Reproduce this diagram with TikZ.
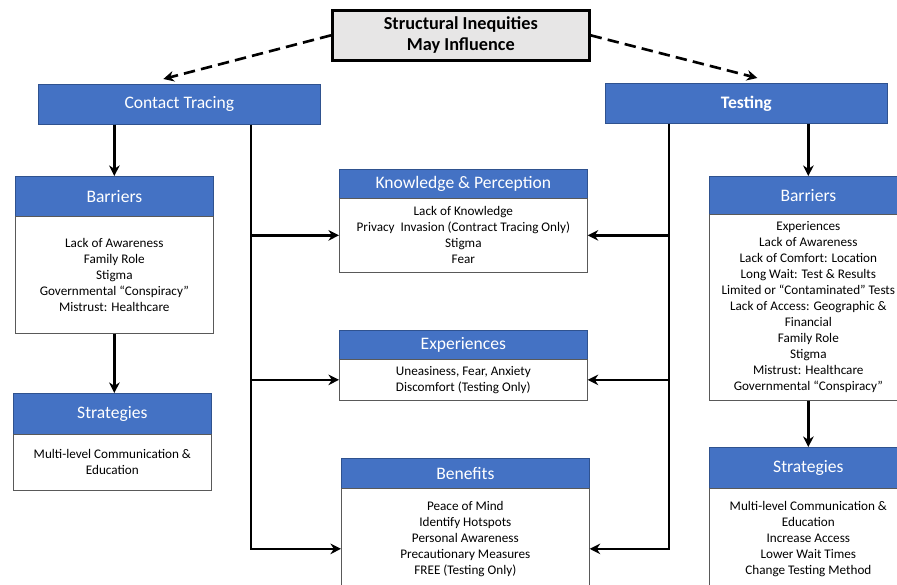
\documentclass[tikz,border=0pt]{standalone}
\usepackage{fontspec}
\setmainfont{Carlito}
\usetikzlibrary{arrows.meta}

\definecolor{hdrblue}{HTML}{4472C4}
\definecolor{hdrline}{HTML}{2F528F}
\definecolor{titlegray}{HTML}{E7E6E6}
\newcommand\hdfont{\fontsize{10}{11.5}\selectfont}
\newcommand\bdfont{\fontsize{7.5}{9.1}\selectfont}

\tikzset{
  hdr/.style={draw=hdrline, fill=hdrblue, text=white, font=\hdfont, inner sep=0pt, anchor=north west},
  bodybox/.style={draw=black!65, fill=white, font=\bdfont, align=center, inner sep=0pt, anchor=north west},
  wh/.style 2 args={minimum width=#1*0.02cm, minimum height=#2*0.02cm},
  link/.style={line width=1.5pt, -{Stealth[length=6pt,width=6pt]}},
  dlink/.style={line width=1.5pt, dash pattern=on 6.5pt off 3.5pt, -{Stealth[length=6pt,width=6pt]}},
}

\begin{document}
\begin{tikzpicture}[x=0.02cm, y=-0.02cm]
\useasboundingbox (0,0) rectangle (897,585);
\clip (0,0) rectangle (897,585);

% top box
\node[draw=black, line width=1.5pt, fill=titlegray, font=\fontsize{10.4}{11.8}\selectfont\bfseries, align=center,
  inner sep=0pt, anchor=north west, wh={257}{50}] (sti) at (331,9) {Structural Inequities\\May Influence};

% main headers
\node[hdr, wh={282}{40}] (ctr) at (38,84) {Contact Tracing};
\node[hdr, wh={282}{40}, font=\hdfont\bfseries] (tst) at (605,83) {Testing};

% contact tracing side
\node[hdr, wh={198}{40}] (lbh) at (15,176) {Barriers};
\node[bodybox, wh={198}{117}] (lbb) at (15,216) {Lack of Awareness\\Family Role\\Stigma\\Governmental “Conspiracy”\\Mistrust: Healthcare};
\node[hdr, wh={198}{41}] (lsh) at (13,393) {Strategies};
\node[bodybox, wh={198}{56}] (lsb) at (13,434) {Multi-level Communication \&\\Education};

% shared boxes
\node[hdr, wh={248}{29}] (kph) at (339,169) {Knowledge \& Perception};
\node[bodybox, wh={248}{74}] (kpb) at (339,198) {Lack of Knowledge\\Privacy\ \ Invasion (Contract Tracing Only)\\Stigma\\Fear};
\node[hdr, wh={248}{29}] (exh) at (339,330) {Experiences};
\node[bodybox, wh={248}{41}] (exb) at (339,359) {Uneasiness, Fear, Anxiety\\Discomfort (Testing Only)};
\node[hdr, wh={248}{30}] (beh) at (341,458) {Benefits};
\node[bodybox, wh={248}{101}] (beb) at (341,488) {Peace of Mind\\Identify Hotspots\\Personal Awareness\\Precautionary Measures\\FREE (Testing Only)};

% testing side
\node[hdr, wh={198}{38}] (rbh) at (709,176) {Barriers};
\node[bodybox, wh={198}{186}] (rbb) at (709,214) {Experiences\\Lack of Awareness\\Lack of Comfort: Location\\Long Wait: Test \& Results\\Limited or “Contaminated” Tests\\Lack of Access: Geographic \&\\Financial\\Family Role\\Stigma\\Mistrust: Healthcare\\Governmental “Conspiracy”};
\node[hdr, wh={198}{41}] (rsh) at (709,447) {Strategies};
\node[bodybox, wh={198}{101}] (rsb) at (709,488) {Multi-level Communication \&\\Education\\Increase Access\\Lower Wait Times\\Change Testing Method};

\coordinate (lt) at (251,0);
\coordinate (rt) at (669,0);

% connectors
\draw[dlink] (sti.west) -- ([xshift=-0.32cm, yshift=0.1cm]ctr.north);
\draw[dlink] (sti.east) -- ([xshift=0.22cm, yshift=0.1cm]tst.north);
\draw[link] (lbh.north |- ctr.south) -- (lbh.north);
\draw[link] (lbb.south) -- (lbb.south |- lsh.north);
\draw[link] (rbh.north |- tst.south) -- (rbh.north);
\draw[link] (rbb.south) -- (rbb.south |- rsh.north);

\draw[link] (ctr.south -| lt) |- ([yshift=-0.2cm]beb.west);
\draw[link] (lt |- kpb.west) -- (kpb.west);
\draw[link] (lt |- exb.west) -- (exb.west);
\draw[link] (tst.south -| rt) |- ([yshift=-0.2cm]beb.east);
\draw[link] (rt |- kpb.east) -- (kpb.east);
\draw[link] (rt |- exb.east) -- (exb.east);

\end{tikzpicture}
\end{document}
